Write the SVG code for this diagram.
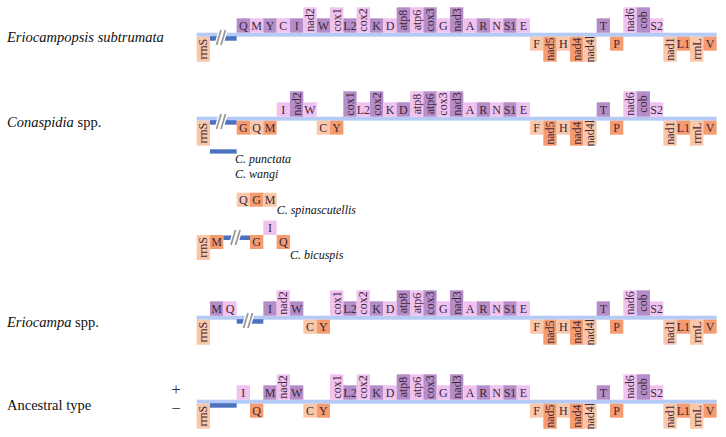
<svg xmlns="http://www.w3.org/2000/svg" width="726" height="437" viewBox="0 0 726 437" font-family="'Liberation Serif', 'Times New Roman', serif">
<style>
text{font-family:'Liberation Serif','Times New Roman',serif;}
.g text{font-size:12px;fill:#3d2838;text-anchor:middle;dominant-baseline:central;}
.dp rect{fill:#b58dc8}
.lp rect{fill:#f0c2f0}
.do rect{fill:#f59b70}
.lo rect{fill:#f9c7a9}
.bb{fill:#b5caf5}
.bar{fill:#4a72bf}
.brk{stroke:#ffffff;stroke-width:4.5;fill:none}
.brk2{stroke:#9a9a9a;stroke-width:1.8;fill:none}
.lab{font-size:14.5px;fill:#111}
.sp{font-size:12px;font-style:italic;fill:#111}
.it{font-style:italic}
.pm{font-size:17px;fill:#3a2a2a;text-anchor:middle}
</style>

<g id="labels">
<text class="lab it" x="7" y="41.7">Eriocampopsis subtrumata</text>
<text class="lab" x="7" y="126.7"><tspan class="it">Conaspidia</tspan> spp.</text>
<text class="lab" x="7" y="326.7"><tspan class="it">Eriocampa</tspan> spp.</text>
<text class="lab" x="7" y="410.2">Ancestral type</text>
<text class="pm" x="176" y="395.3">+</text>
<text class="pm" x="176" y="414.3">−</text>
<text class="sp" x="235" y="163.3">C. punctata</text>
<text class="sp" x="235" y="178.3">C. wangi</text>
<text class="sp" x="276.7" y="214.3">C. spinascutellis</text>
<text class="sp" x="290" y="259">C. bicuspis</text>
</g>

<g id="connectors">
<rect class="bb" x="196.67" y="32.7" width="520" height="4"/>
<rect class="bb" x="196.67" y="116.7" width="520" height="4"/>
<rect class="bb" x="196.67" y="315.7" width="520" height="4"/>
<rect class="bb" x="196.67" y="399.7" width="520" height="4"/>
<rect class="bar" x="210" y="36.2" width="26.67" height="4.5"/>
<rect class="bar" x="210" y="120.2" width="26.67" height="4.5"/>
<rect class="bar" x="236.67" y="319.2" width="26.67" height="4.5"/>
<rect class="bar" x="210" y="403.2" width="26.67" height="4.5"/>
<rect class="bar" x="210" y="149.3" width="26.67" height="4.3"/>
<rect class="bar" x="223.33" y="235.5" width="26.67" height="4.5"/>
<path class="brk" d="M216.5 45 L221 30 M221 45 L225.5 30 M216.5 129 L221 114 M221 129 L225.5 114 M243.5 328 L248 313 M248 328 L252.5 313 M231 245 L235.5 230 M235.5 245 L240 230"/>
<path class="brk2" d="M216.5 45 L221 30 M221 45 L225.5 30 M216.5 129 L221 114 M221 129 L225.5 114 M243.5 328 L248 313 M248 328 L252.5 313 M231 245 L235.5 230 M235.5 245 L240 230"/>
</g>

<!-- Row 1: Eriocampopsis subtrumata -->
<g id="row1" class="g" transform="translate(0,34.7)">
<g id="r1-rrnS" class="lo"><rect x="196.67" y="2" width="13.33" height="25"/><text transform="translate(203.33,14.5) rotate(-90)">rrnS</text></g>
<g id="r1-Q" class="dp"><rect x="236.67" y="-16.4" width="13.33" height="14.4"/><text x="243.33" y="-9.2">Q</text></g>
<g id="r1-M" class="lp"><rect x="250" y="-16.4" width="13.33" height="14.4"/><text x="256.67" y="-9.2">M</text></g>
<g id="r1-Y" class="dp"><rect x="263.33" y="-16.4" width="13.33" height="14.4"/><text x="270" y="-9.2">Y</text></g>
<g id="r1-C" class="lp"><rect x="276.67" y="-16.4" width="13.33" height="14.4"/><text x="283.33" y="-9.2">C</text></g>
<g id="r1-I" class="dp"><rect x="290" y="-16.4" width="13.33" height="14.4"/><text x="296.67" y="-9.2">I</text></g>
<g id="r1-nad2" class="lp"><rect x="303.33" y="-27.4" width="13.33" height="25.4"/><text transform="translate(310,-14.7) rotate(-90)">nad2</text></g>
<g id="r1-W" class="dp"><rect x="316.67" y="-16.4" width="13.33" height="14.4"/><text x="323.33" y="-9.2">W</text></g>
<g id="r1-cox1" class="lp"><rect x="330" y="-27.4" width="13.33" height="25.4"/><text transform="translate(336.67,-14.7) rotate(-90)">cox1</text></g>
<g id="r1-L2" class="dp"><rect x="343.33" y="-16.4" width="13.33" height="14.4"/><text x="350" y="-9.2">L2</text></g>
<g id="r1-cox2" class="lp"><rect x="356.67" y="-27.4" width="13.33" height="25.4"/><text transform="translate(363.33,-14.7) rotate(-90)">cox2</text></g>
<g id="r1-K" class="dp"><rect x="370" y="-16.4" width="13.33" height="14.4"/><text x="376.67" y="-9.2">K</text></g>
<g id="r1-D" class="lp"><rect x="383.33" y="-16.4" width="13.33" height="14.4"/><text x="390" y="-9.2">D</text></g>
<g id="r1-atp8" class="dp"><rect x="396.67" y="-27.4" width="13.33" height="25.4"/><text transform="translate(403.33,-14.7) rotate(-90)">atp8</text></g>
<g id="r1-atp6" class="lp"><rect x="410" y="-27.4" width="13.33" height="25.4"/><text transform="translate(416.67,-14.7) rotate(-90)">atp6</text></g>
<g id="r1-cox3" class="dp"><rect x="423.33" y="-27.4" width="13.33" height="25.4"/><text transform="translate(430,-14.7) rotate(-90)">cox3</text></g>
<g id="r1-G" class="lp"><rect x="436.67" y="-16.4" width="13.33" height="14.4"/><text x="443.33" y="-9.2">G</text></g>
<g id="r1-nad3" class="dp"><rect x="450" y="-27.4" width="13.33" height="25.4"/><text transform="translate(456.67,-14.7) rotate(-90)">nad3</text></g>
<g id="r1-A" class="lp"><rect x="463.33" y="-16.4" width="13.33" height="14.4"/><text x="470" y="-9.2">A</text></g>
<g id="r1-R" class="dp"><rect x="476.67" y="-16.4" width="13.33" height="14.4"/><text x="483.33" y="-9.2">R</text></g>
<g id="r1-N" class="lp"><rect x="490" y="-16.4" width="13.33" height="14.4"/><text x="496.67" y="-9.2">N</text></g>
<g id="r1-S1" class="dp"><rect x="503.33" y="-16.4" width="13.33" height="14.4"/><text x="510" y="-9.2">S1</text></g>
<g id="r1-E" class="lp"><rect x="516.67" y="-16.4" width="13.33" height="14.4"/><text x="523.33" y="-9.2">E</text></g>
<g id="r1-F" class="lo"><rect x="530" y="2" width="13.33" height="14"/><text x="536.67" y="9">F</text></g>
<g id="r1-nad5" class="do"><rect x="543.33" y="2" width="13.33" height="25"/><text transform="translate(550,14.5) rotate(-90)">nad5</text></g>
<g id="r1-H" class="lo"><rect x="556.67" y="2" width="13.33" height="14"/><text x="563.33" y="9">H</text></g>
<g id="r1-nad4" class="do"><rect x="570" y="2" width="13.33" height="25"/><text transform="translate(576.67,14.5) rotate(-90)">nad4</text></g>
<g id="r1-nad4l" class="lo"><rect x="583.33" y="2" width="13.33" height="25"/><text transform="translate(590,14.5) rotate(-90)">nad4l</text></g>
<g id="r1-T" class="dp"><rect x="596.67" y="-16.4" width="13.33" height="14.4"/><text x="603.33" y="-9.2">T</text></g>
<g id="r1-P" class="do"><rect x="610" y="2" width="13.33" height="14"/><text x="616.67" y="9">P</text></g>
<g id="r1-nad6" class="lp"><rect x="623.33" y="-27.4" width="13.33" height="25.4"/><text transform="translate(630,-14.7) rotate(-90)">nad6</text></g>
<g id="r1-cob" class="dp"><rect x="636.67" y="-27.4" width="13.33" height="25.4"/><text transform="translate(643.33,-14.7) rotate(-90)">cob</text></g>
<g id="r1-S2" class="lp"><rect x="650" y="-16.4" width="13.33" height="14.4"/><text x="656.67" y="-9.2">S2</text></g>
<g id="r1-nad1" class="lo"><rect x="663.33" y="2" width="13.33" height="25"/><text transform="translate(670,14.5) rotate(-90)">nad1</text></g>
<g id="r1-L1" class="do"><rect x="676.67" y="2" width="13.33" height="14"/><text x="683.33" y="9">L1</text></g>
<g id="r1-rrnL" class="lo"><rect x="690" y="2" width="13.33" height="25"/><text transform="translate(696.67,14.5) rotate(-90)">rrnL</text></g>
<g id="r1-V" class="do"><rect x="703.33" y="2" width="13.33" height="14"/><text x="710" y="9">V</text></g>
</g>

<!-- Row 2: Conaspidia spp. -->
<g id="row2" class="g" transform="translate(0,118.7)">
<g id="r2-rrnS" class="lo"><rect x="196.67" y="2" width="13.33" height="25"/><text transform="translate(203.33,14.5) rotate(-90)">rrnS</text></g>
<g id="r2-G" class="do"><rect x="236.67" y="2" width="13.33" height="14"/><text x="243.33" y="9">G</text></g>
<g id="r2-Q" class="lo"><rect x="250" y="2" width="13.33" height="14"/><text x="256.67" y="9">Q</text></g>
<g id="r2-M" class="do"><rect x="263.33" y="2" width="13.33" height="14"/><text x="270" y="9">M</text></g>
<g id="r2-I" class="lp"><rect x="276.67" y="-16.4" width="13.33" height="14.4"/><text x="283.33" y="-9.2">I</text></g>
<g id="r2-nad2" class="dp"><rect x="290" y="-27.4" width="13.33" height="25.4"/><text transform="translate(296.67,-14.7) rotate(-90)">nad2</text></g>
<g id="r2-W" class="lp"><rect x="303.33" y="-16.4" width="13.33" height="14.4"/><text x="310" y="-9.2">W</text></g>
<g id="r2-C" class="lo"><rect x="316.67" y="2" width="13.33" height="14"/><text x="323.33" y="9">C</text></g>
<g id="r2-Y" class="do"><rect x="330" y="2" width="13.33" height="14"/><text x="336.67" y="9">Y</text></g>
<g id="r2-cox1" class="dp"><rect x="343.33" y="-27.4" width="13.33" height="25.4"/><text transform="translate(350,-14.7) rotate(-90)">cox1</text></g>
<g id="r2-L2" class="lp"><rect x="356.67" y="-16.4" width="13.33" height="14.4"/><text x="363.33" y="-9.2">L2</text></g>
<g id="r2-cox2" class="dp"><rect x="370" y="-27.4" width="13.33" height="25.4"/><text transform="translate(376.67,-14.7) rotate(-90)">cox2</text></g>
<g id="r2-K" class="lp"><rect x="383.33" y="-16.4" width="13.33" height="14.4"/><text x="390" y="-9.2">K</text></g>
<g id="r2-D" class="dp"><rect x="396.67" y="-16.4" width="13.33" height="14.4"/><text x="403.33" y="-9.2">D</text></g>
<g id="r2-atp8" class="lp"><rect x="410" y="-27.4" width="13.33" height="25.4"/><text transform="translate(416.67,-14.7) rotate(-90)">atp8</text></g>
<g id="r2-atp6" class="dp"><rect x="423.33" y="-27.4" width="13.33" height="25.4"/><text transform="translate(430,-14.7) rotate(-90)">atp6</text></g>
<g id="r2-cox3" class="lp"><rect x="436.67" y="-27.4" width="13.33" height="25.4"/><text transform="translate(443.33,-14.7) rotate(-90)">cox3</text></g>
<g id="r2-nad3" class="dp"><rect x="450" y="-27.4" width="13.33" height="25.4"/><text transform="translate(456.67,-14.7) rotate(-90)">nad3</text></g>
<g id="r2-A" class="lp"><rect x="463.33" y="-16.4" width="13.33" height="14.4"/><text x="470" y="-9.2">A</text></g>
<g id="r2-R" class="dp"><rect x="476.67" y="-16.4" width="13.33" height="14.4"/><text x="483.33" y="-9.2">R</text></g>
<g id="r2-N" class="lp"><rect x="490" y="-16.4" width="13.33" height="14.4"/><text x="496.67" y="-9.2">N</text></g>
<g id="r2-S1" class="dp"><rect x="503.33" y="-16.4" width="13.33" height="14.4"/><text x="510" y="-9.2">S1</text></g>
<g id="r2-E" class="lp"><rect x="516.67" y="-16.4" width="13.33" height="14.4"/><text x="523.33" y="-9.2">E</text></g>
<g id="r2-F" class="lo"><rect x="530" y="2" width="13.33" height="14"/><text x="536.67" y="9">F</text></g>
<g id="r2-nad5" class="do"><rect x="543.33" y="2" width="13.33" height="25"/><text transform="translate(550,14.5) rotate(-90)">nad5</text></g>
<g id="r2-H" class="lo"><rect x="556.67" y="2" width="13.33" height="14"/><text x="563.33" y="9">H</text></g>
<g id="r2-nad4" class="do"><rect x="570" y="2" width="13.33" height="25"/><text transform="translate(576.67,14.5) rotate(-90)">nad4</text></g>
<g id="r2-nad4l" class="lo"><rect x="583.33" y="2" width="13.33" height="25"/><text transform="translate(590,14.5) rotate(-90)">nad4l</text></g>
<g id="r2-T" class="dp"><rect x="596.67" y="-16.4" width="13.33" height="14.4"/><text x="603.33" y="-9.2">T</text></g>
<g id="r2-P" class="do"><rect x="610" y="2" width="13.33" height="14"/><text x="616.67" y="9">P</text></g>
<g id="r2-nad6" class="lp"><rect x="623.33" y="-27.4" width="13.33" height="25.4"/><text transform="translate(630,-14.7) rotate(-90)">nad6</text></g>
<g id="r2-cob" class="dp"><rect x="636.67" y="-27.4" width="13.33" height="25.4"/><text transform="translate(643.33,-14.7) rotate(-90)">cob</text></g>
<g id="r2-S2" class="lp"><rect x="650" y="-16.4" width="13.33" height="14.4"/><text x="656.67" y="-9.2">S2</text></g>
<g id="r2-nad1" class="lo"><rect x="663.33" y="2" width="13.33" height="25"/><text transform="translate(670,14.5) rotate(-90)">nad1</text></g>
<g id="r2-L1" class="do"><rect x="676.67" y="2" width="13.33" height="14"/><text x="683.33" y="9">L1</text></g>
<g id="r2-rrnL" class="lo"><rect x="690" y="2" width="13.33" height="25"/><text transform="translate(696.67,14.5) rotate(-90)">rrnL</text></g>
<g id="r2-V" class="do"><rect x="703.33" y="2" width="13.33" height="14"/><text x="710" y="9">V</text></g>
</g>

<!-- C. spinascutellis insert -->
<g id="spinascutellis" class="g" transform="translate(0,190.7)">
<g id="sp-Q" class="lo"><rect x="236.67" y="2" width="13.33" height="14"/><text x="243.33" y="9">Q</text></g>
<g id="sp-G" class="do"><rect x="250" y="2" width="13.33" height="14"/><text x="256.67" y="9">G</text></g>
<g id="sp-M" class="lo"><rect x="263.33" y="2" width="13.33" height="14"/><text x="270" y="9">M</text></g>
</g>

<!-- C. bicuspis insert -->
<g id="bicuspis" class="g" transform="translate(0,233)">
<g id="bi-rrnS" class="lo"><rect x="196.67" y="2" width="13.33" height="25"/><text transform="translate(203.33,14.5) rotate(-90)">rrnS</text></g>
<g id="bi-M" class="do"><rect x="210" y="2" width="13.33" height="14"/><text x="216.67" y="9">M</text></g>
<g id="bi-G" class="do"><rect x="250" y="2" width="13.33" height="14"/><text x="256.67" y="9">G</text></g>
<g id="bi-I" class="lp"><rect x="263.33" y="-12.4" width="13.33" height="14.4"/><text x="270" y="-5.2">I</text></g>
<g id="bi-Q" class="do"><rect x="276.67" y="2" width="13.33" height="14"/><text x="283.33" y="9">Q</text></g>
</g>

<!-- Row 3: Eriocampa spp. -->
<g id="row3" class="g" transform="translate(0,317.7)">
<g id="r3-rrnS" class="lo"><rect x="196.67" y="2" width="13.33" height="25"/><text transform="translate(203.33,14.5) rotate(-90)">rrnS</text></g>
<g id="r3-M" class="dp"><rect x="210" y="-16.4" width="13.33" height="14.4"/><text x="216.67" y="-9.2">M</text></g>
<g id="r3-Q" class="lp"><rect x="223.33" y="-16.4" width="13.33" height="14.4"/><text x="230" y="-9.2">Q</text></g>
<g id="r3-I" class="dp"><rect x="263.33" y="-16.4" width="13.33" height="14.4"/><text x="270" y="-9.2">I</text></g>
<g id="r3-nad2" class="lp"><rect x="276.67" y="-27.4" width="13.33" height="25.4"/><text transform="translate(283.33,-14.7) rotate(-90)">nad2</text></g>
<g id="r3-W" class="dp"><rect x="290" y="-16.4" width="13.33" height="14.4"/><text x="296.67" y="-9.2">W</text></g>
<g id="r3-C" class="lo"><rect x="303.33" y="2" width="13.33" height="14"/><text x="310" y="9">C</text></g>
<g id="r3-Y" class="do"><rect x="316.67" y="2" width="13.33" height="14"/><text x="323.33" y="9">Y</text></g>
<g id="r3-cox1" class="lp"><rect x="330" y="-27.4" width="13.33" height="25.4"/><text transform="translate(336.67,-14.7) rotate(-90)">cox1</text></g>
<g id="r3-L2" class="dp"><rect x="343.33" y="-16.4" width="13.33" height="14.4"/><text x="350" y="-9.2">L2</text></g>
<g id="r3-cox2" class="lp"><rect x="356.67" y="-27.4" width="13.33" height="25.4"/><text transform="translate(363.33,-14.7) rotate(-90)">cox2</text></g>
<g id="r3-K" class="dp"><rect x="370" y="-16.4" width="13.33" height="14.4"/><text x="376.67" y="-9.2">K</text></g>
<g id="r3-D" class="lp"><rect x="383.33" y="-16.4" width="13.33" height="14.4"/><text x="390" y="-9.2">D</text></g>
<g id="r3-atp8" class="dp"><rect x="396.67" y="-27.4" width="13.33" height="25.4"/><text transform="translate(403.33,-14.7) rotate(-90)">atp8</text></g>
<g id="r3-atp6" class="lp"><rect x="410" y="-27.4" width="13.33" height="25.4"/><text transform="translate(416.67,-14.7) rotate(-90)">atp6</text></g>
<g id="r3-cox3" class="dp"><rect x="423.33" y="-27.4" width="13.33" height="25.4"/><text transform="translate(430,-14.7) rotate(-90)">cox3</text></g>
<g id="r3-G" class="lp"><rect x="436.67" y="-16.4" width="13.33" height="14.4"/><text x="443.33" y="-9.2">G</text></g>
<g id="r3-nad3" class="dp"><rect x="450" y="-27.4" width="13.33" height="25.4"/><text transform="translate(456.67,-14.7) rotate(-90)">nad3</text></g>
<g id="r3-A" class="lp"><rect x="463.33" y="-16.4" width="13.33" height="14.4"/><text x="470" y="-9.2">A</text></g>
<g id="r3-R" class="dp"><rect x="476.67" y="-16.4" width="13.33" height="14.4"/><text x="483.33" y="-9.2">R</text></g>
<g id="r3-N" class="lp"><rect x="490" y="-16.4" width="13.33" height="14.4"/><text x="496.67" y="-9.2">N</text></g>
<g id="r3-S1" class="dp"><rect x="503.33" y="-16.4" width="13.33" height="14.4"/><text x="510" y="-9.2">S1</text></g>
<g id="r3-E" class="lp"><rect x="516.67" y="-16.4" width="13.33" height="14.4"/><text x="523.33" y="-9.2">E</text></g>
<g id="r3-F" class="lo"><rect x="530" y="2" width="13.33" height="14"/><text x="536.67" y="9">F</text></g>
<g id="r3-nad5" class="do"><rect x="543.33" y="2" width="13.33" height="25"/><text transform="translate(550,14.5) rotate(-90)">nad5</text></g>
<g id="r3-H" class="lo"><rect x="556.67" y="2" width="13.33" height="14"/><text x="563.33" y="9">H</text></g>
<g id="r3-nad4" class="do"><rect x="570" y="2" width="13.33" height="25"/><text transform="translate(576.67,14.5) rotate(-90)">nad4</text></g>
<g id="r3-nad4l" class="lo"><rect x="583.33" y="2" width="13.33" height="25"/><text transform="translate(590,14.5) rotate(-90)">nad4l</text></g>
<g id="r3-T" class="dp"><rect x="596.67" y="-16.4" width="13.33" height="14.4"/><text x="603.33" y="-9.2">T</text></g>
<g id="r3-P" class="do"><rect x="610" y="2" width="13.33" height="14"/><text x="616.67" y="9">P</text></g>
<g id="r3-nad6" class="lp"><rect x="623.33" y="-27.4" width="13.33" height="25.4"/><text transform="translate(630,-14.7) rotate(-90)">nad6</text></g>
<g id="r3-cob" class="dp"><rect x="636.67" y="-27.4" width="13.33" height="25.4"/><text transform="translate(643.33,-14.7) rotate(-90)">cob</text></g>
<g id="r3-S2" class="lp"><rect x="650" y="-16.4" width="13.33" height="14.4"/><text x="656.67" y="-9.2">S2</text></g>
<g id="r3-nad1" class="lo"><rect x="663.33" y="2" width="13.33" height="25"/><text transform="translate(670,14.5) rotate(-90)">nad1</text></g>
<g id="r3-L1" class="do"><rect x="676.67" y="2" width="13.33" height="14"/><text x="683.33" y="9">L1</text></g>
<g id="r3-rrnL" class="lo"><rect x="690" y="2" width="13.33" height="25"/><text transform="translate(696.67,14.5) rotate(-90)">rrnL</text></g>
<g id="r3-V" class="do"><rect x="703.33" y="2" width="13.33" height="14"/><text x="710" y="9">V</text></g>
</g>

<!-- Row 4: Ancestral type -->
<g id="row4" class="g" transform="translate(0,401.7)">
<g id="r4-rrnS" class="lo"><rect x="196.67" y="2" width="13.33" height="25"/><text transform="translate(203.33,14.5) rotate(-90)">rrnS</text></g>
<g id="r4-I" class="lp"><rect x="236.67" y="-16.4" width="13.33" height="14.4"/><text x="243.33" y="-9.2">I</text></g>
<g id="r4-Q" class="do"><rect x="250" y="2" width="13.33" height="14"/><text x="256.67" y="9">Q</text></g>
<g id="r4-M" class="dp"><rect x="263.33" y="-16.4" width="13.33" height="14.4"/><text x="270" y="-9.2">M</text></g>
<g id="r4-nad2" class="lp"><rect x="276.67" y="-27.4" width="13.33" height="25.4"/><text transform="translate(283.33,-14.7) rotate(-90)">nad2</text></g>
<g id="r4-W" class="dp"><rect x="290" y="-16.4" width="13.33" height="14.4"/><text x="296.67" y="-9.2">W</text></g>
<g id="r4-C" class="lo"><rect x="303.33" y="2" width="13.33" height="14"/><text x="310" y="9">C</text></g>
<g id="r4-Y" class="do"><rect x="316.67" y="2" width="13.33" height="14"/><text x="323.33" y="9">Y</text></g>
<g id="r4-cox1" class="lp"><rect x="330" y="-27.4" width="13.33" height="25.4"/><text transform="translate(336.67,-14.7) rotate(-90)">cox1</text></g>
<g id="r4-L2" class="dp"><rect x="343.33" y="-16.4" width="13.33" height="14.4"/><text x="350" y="-9.2">L2</text></g>
<g id="r4-cox2" class="lp"><rect x="356.67" y="-27.4" width="13.33" height="25.4"/><text transform="translate(363.33,-14.7) rotate(-90)">cox2</text></g>
<g id="r4-K" class="dp"><rect x="370" y="-16.4" width="13.33" height="14.4"/><text x="376.67" y="-9.2">K</text></g>
<g id="r4-D" class="lp"><rect x="383.33" y="-16.4" width="13.33" height="14.4"/><text x="390" y="-9.2">D</text></g>
<g id="r4-atp8" class="dp"><rect x="396.67" y="-27.4" width="13.33" height="25.4"/><text transform="translate(403.33,-14.7) rotate(-90)">atp8</text></g>
<g id="r4-atp6" class="lp"><rect x="410" y="-27.4" width="13.33" height="25.4"/><text transform="translate(416.67,-14.7) rotate(-90)">atp6</text></g>
<g id="r4-cox3" class="dp"><rect x="423.33" y="-27.4" width="13.33" height="25.4"/><text transform="translate(430,-14.7) rotate(-90)">cox3</text></g>
<g id="r4-G" class="lp"><rect x="436.67" y="-16.4" width="13.33" height="14.4"/><text x="443.33" y="-9.2">G</text></g>
<g id="r4-nad3" class="dp"><rect x="450" y="-27.4" width="13.33" height="25.4"/><text transform="translate(456.67,-14.7) rotate(-90)">nad3</text></g>
<g id="r4-A" class="lp"><rect x="463.33" y="-16.4" width="13.33" height="14.4"/><text x="470" y="-9.2">A</text></g>
<g id="r4-R" class="dp"><rect x="476.67" y="-16.4" width="13.33" height="14.4"/><text x="483.33" y="-9.2">R</text></g>
<g id="r4-N" class="lp"><rect x="490" y="-16.4" width="13.33" height="14.4"/><text x="496.67" y="-9.2">N</text></g>
<g id="r4-S1" class="dp"><rect x="503.33" y="-16.4" width="13.33" height="14.4"/><text x="510" y="-9.2">S1</text></g>
<g id="r4-E" class="lp"><rect x="516.67" y="-16.4" width="13.33" height="14.4"/><text x="523.33" y="-9.2">E</text></g>
<g id="r4-F" class="lo"><rect x="530" y="2" width="13.33" height="14"/><text x="536.67" y="9">F</text></g>
<g id="r4-nad5" class="do"><rect x="543.33" y="2" width="13.33" height="25"/><text transform="translate(550,14.5) rotate(-90)">nad5</text></g>
<g id="r4-H" class="lo"><rect x="556.67" y="2" width="13.33" height="14"/><text x="563.33" y="9">H</text></g>
<g id="r4-nad4" class="do"><rect x="570" y="2" width="13.33" height="25"/><text transform="translate(576.67,14.5) rotate(-90)">nad4</text></g>
<g id="r4-nad4l" class="lo"><rect x="583.33" y="2" width="13.33" height="25"/><text transform="translate(590,14.5) rotate(-90)">nad4l</text></g>
<g id="r4-T" class="dp"><rect x="596.67" y="-16.4" width="13.33" height="14.4"/><text x="603.33" y="-9.2">T</text></g>
<g id="r4-P" class="do"><rect x="610" y="2" width="13.33" height="14"/><text x="616.67" y="9">P</text></g>
<g id="r4-nad6" class="lp"><rect x="623.33" y="-27.4" width="13.33" height="25.4"/><text transform="translate(630,-14.7) rotate(-90)">nad6</text></g>
<g id="r4-cob" class="dp"><rect x="636.67" y="-27.4" width="13.33" height="25.4"/><text transform="translate(643.33,-14.7) rotate(-90)">cob</text></g>
<g id="r4-S2" class="lp"><rect x="650" y="-16.4" width="13.33" height="14.4"/><text x="656.67" y="-9.2">S2</text></g>
<g id="r4-nad1" class="lo"><rect x="663.33" y="2" width="13.33" height="25"/><text transform="translate(670,14.5) rotate(-90)">nad1</text></g>
<g id="r4-L1" class="do"><rect x="676.67" y="2" width="13.33" height="14"/><text x="683.33" y="9">L1</text></g>
<g id="r4-rrnL" class="lo"><rect x="690" y="2" width="13.33" height="25"/><text transform="translate(696.67,14.5) rotate(-90)">rrnL</text></g>
<g id="r4-V" class="do"><rect x="703.33" y="2" width="13.33" height="14"/><text x="710" y="9">V</text></g>
</g>
</svg>
